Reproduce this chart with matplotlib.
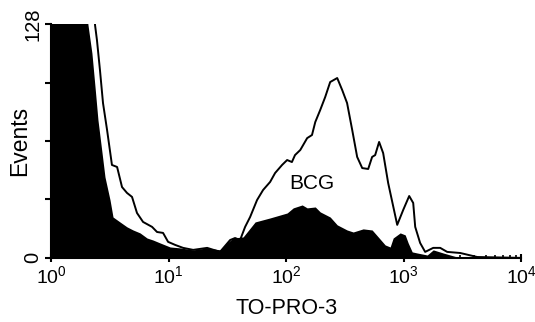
import numpy as np
import matplotlib
matplotlib.use('Agg')
import matplotlib.pyplot as plt

plt.rcParams['font.family'] = ['Liberation Sans', 'DejaVu Sans']

# Control (filled black) histogram: intensity, events
ctrl_x = [1.0, 2.0, 2.06, 2.23, 2.37, 2.51, 2.72, 2.88, 3.18, 3.37, 3.86, 4.43, 4.99,
          5.72, 6.56, 7.38, 8.47, 10.3, 12.5, 16.2, 21.3, 27.4, 31.5, 35.4, 43.1,
          54.5, 73.1, 102, 115, 137, 151, 177, 195, 237, 272, 330, 372, 452, 539,
          607, 696, 767, 814, 934, 1030, 1092, 1181, 1303, 1585, 1783, 2168, 2851,
          4223, 10000]
ctrl_y = [140, 140, 128, 112.1, 93.5, 75.5, 57.4, 44.3, 31.7, 22.4, 19.7, 17.0, 15.3,
          13.7, 10.9, 9.8, 8.2, 6.0, 5.5, 4.4, 5.5, 4.4, 8.2, 10.9, 11.5,
          19.7, 21.9, 24.6, 27.4, 29.0, 27.4, 27.9, 25.2, 22.4, 18.1, 15.3, 14.2, 15.9, 15.3,
          11.5, 7.1, 6.0, 10.9, 13.7, 12.6, 8.2, 3.3, 2.7, 1.6, 4.4, 2.7, 0.5,
          0, 0]

# BCG (open) histogram
bcg_x = [1.0, 2.32, 2.37, 2.46, 2.61, 2.77, 3.00, 3.30, 3.65, 4.02, 4.43, 4.89, 5.39,
         6.07, 7.24, 7.98, 8.98, 9.91, 11.4, 13.3, 16.2, 21.3, 27.4, 33.4, 36.8,
         40.6, 44.8, 49.4, 56.6, 63.7, 73.1, 80.6, 92.4, 102, 112, 119, 132, 151,
         166, 177, 195, 215, 237, 272, 300, 330, 365, 402, 444, 499, 539, 572, 618,
         669, 738, 881, 991, 1114, 1205, 1253, 1380, 1523, 1783, 2045, 2344, 3027,
         4223, 10000]
bcg_y = [140, 140, 127.5, 119.3, 102.8, 84.8, 70.0, 50.9, 49.8, 38.8, 35.6, 33.4, 24.6,
         19.7, 17.0, 14.2, 13.7, 8.8, 7.1, 5.5, 4.4, 5.5, 3.3, 9.8, 10.9,
         9.8, 17.0, 22.4, 31.7, 37.2, 41.6, 46.5, 50.9, 53.6, 52.5, 56.3, 59.1, 65.6,
         67.3, 74.4, 81.0, 88.1, 96.3, 98.5, 91.9, 84.8, 70.0, 55.3, 49.2, 48.7, 55.3, 56.3, 63.5,
         57.4, 41.0, 18.1, 26.3, 33.9, 30.1, 17.0, 8.2, 3.3, 5.5, 5.5, 3.3, 2.7,
         0.5, 0]

fig = plt.figure(figsize=(5.35, 3.22), dpi=100)
ax = fig.add_axes([0.0953, 0.199, 0.879, 0.726])

ax.fill_between(bcg_x, bcg_y, color='white', zorder=1)
ax.plot(bcg_x, bcg_y, color='black', lw=1.4, zorder=2)
ax.fill_between(ctrl_x, ctrl_y, color='black', lw=0, zorder=3)

ax.set_xscale('log')
ax.set_xlim(1, 10000)
ax.set_ylim(0, 128)
ax.set_yticks([0, 32, 64, 96, 128])
ax.set_yticklabels(['0', '', '', '', '128'], rotation=90, va='center')
ax.set_xticks([1, 10, 100, 1000, 10000])
ax.set_xticklabels(['$\\mathregular{10^0}$', '$\\mathregular{10^1}$',
                    '$\\mathregular{10^2}$', '$\\mathregular{10^3}$',
                    '$\\mathregular{10^4}$'])
ax.tick_params(axis='y', which='major', labelsize=14.5, width=1.5, length=4, pad=2)
ax.tick_params(axis='x', which='major', labelsize=14, width=1.5, length=6,
               direction='inout', pad=2)
ax.tick_params(axis='x', which='minor', width=1.2, length=2.5, direction='in')
for s in ['top', 'right']:
    ax.spines[s].set_visible(False)
for s in ['left', 'bottom']:
    ax.spines[s].set_linewidth(1.5)
    ax.spines[s].set_zorder(5)

ax.set_xlabel('TO-PRO-3', fontsize=15.5, labelpad=8)
ax.set_ylabel('Events', fontsize=16.5, va='center')
ax.yaxis.set_label_coords(-0.066, 0.5)
ax.text(166, 40.5, 'BCG', fontsize=15, ha='center', va='center', zorder=4)

fig.savefig('out.png', dpi=100)
